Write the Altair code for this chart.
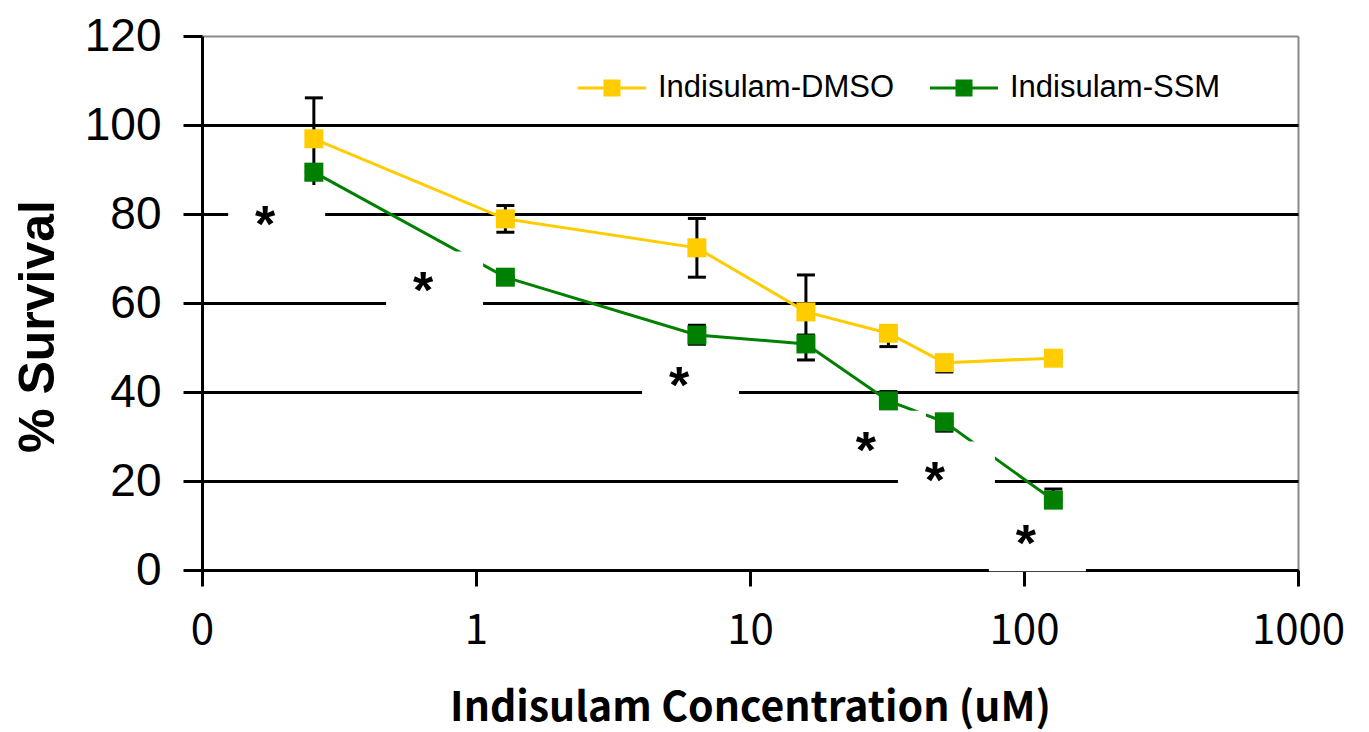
import altair as alt
import pandas as pd

# ---- data ----
conc = [0.256, 1.28, 6.4, 16, 32, 51.2, 128]
dmso = [96.9, 78.9, 72.4, 58.0, 53.2, 46.6, 47.6]
dmso_err_up = [9.2, 3.0, 6.6, 8.3, 0.0, 0.0, 0.0]
dmso_err_down = [9.2, 3.0, 6.6, 8.3, 3.0, 2.1, 0.0]
ssm = [89.4, 65.8, 52.8, 50.8, 38.0, 33.3, 15.7]
ssm_err_up = [0.0, 0.0, 2.2, 2.0, 2.1, 0.0, 2.5]
ssm_err_down = [3.3, 0.0, 2.2, 3.6, 0.0, 2.1, 0.0]

series_names = ["Indisulam-DMSO", "Indisulam-SSM"]
series_colors = ["#FFCC00", "#008000"]

star_x = [0.170, 0.641, 5.51, 26.5, 47.3, 101.6]
star_y = [79.3, 64.4, 43.2, 28.6, 21.7, 7.6]
star_text = ["*", "*", "*", "*", "*", "*"]

x_ticks = [0.1, 1, 10, 100, 1000]
x_tick_labels = ["0", "1", "10", "100", "1000"]
y_ticks = [0, 20, 40, 60, 80, 100, 120]

# ---- tables ----
rows = []
for name, vals, eu, ed in [(series_names[0], dmso, dmso_err_up, dmso_err_down),
                           (series_names[1], ssm, ssm_err_up, ssm_err_down)]:
    for c, v, u, d in zip(conc, vals, eu, ed):
        rows.append({"conc": c, "value": v, "lo": v - d, "hi": v + u, "series": name})
df = pd.DataFrame(rows)

stars = pd.DataFrame({"x": star_x, "y": star_y, "t": star_text})
# white text-box backgrounds behind each asterisk (Excel text boxes)
stars["bx1"] = stars["x"] * 10 ** (-0.135)
stars["bx2"] = stars["x"] * 10 ** (0.219)
stars["by1"] = stars["y"] - 7.9
stars["by2"] = stars["y"] + 7.2

label_map = ",".join(f"'{v}':'{l}'" for v, l in zip(x_ticks, x_tick_labels))
label_expr = "{" + label_map + "}[toString(datum.value)]"

xscale = alt.Scale(type="log", domain=[0.1, 1000], nice=False)
yscale = alt.Scale(domain=[0, 120], nice=False)

narrow = "Noto Sans CJK SC, Liberation Sans"

xaxis = alt.Axis(
    values=x_ticks, labelExpr=label_expr, title="Indisulam Concentration (uM)",
    labelFont=narrow, labelFontSize=42, labelColor="black", labelPadding=24,
    titleFont=narrow, titleFontSize=41, titleFontWeight="bold", titleColor="black", titlePadding=37,
    domainColor="black", domainWidth=3, tickColor="black", tickWidth=3, tickSize=16,
    grid=True,
    gridColor={"condition": {"test": "datum.value === 1000", "value": "#8a8a8a"}, "value": "transparent"},
    gridWidth=2, labelFlush=False,
)
yaxis = alt.Axis(
    values=y_ticks, title="% Survival",
    labelFont="Liberation Sans", labelFontSize=46, labelColor="black", labelPadding=22,
    titleFont="Liberation Sans", titleFontSize=50, titleFontWeight="bold", titleColor="black",
    titlePadding=21, titleY=290,
    domainColor="black", domainWidth=3, tickColor="black", tickWidth=3, tickSize=19,
    grid=True,
    gridColor={"condition": {"test": "datum.value === 120", "value": "#8a8a8a"}, "value": "black"},
    gridWidth={"condition": {"test": "datum.value === 120", "value": 2}, "value": 3},
)

base = alt.Chart(df)

err_rule = base.mark_rule(color="black", strokeWidth=3).encode(
    x=alt.X("conc:Q", scale=xscale, axis=xaxis),
    y=alt.Y("lo:Q", scale=yscale, axis=yaxis),
    y2="hi:Q",
)
cap_lo = base.mark_tick(color="black", orient="horizontal", size=18, thickness=3, opacity=1).encode(
    x="conc:Q", y="lo:Q")
cap_hi = base.mark_tick(color="black", orient="horizontal", size=18, thickness=3, opacity=1).encode(
    x="conc:Q", y="hi:Q")

color_scale = alt.Scale(domain=series_names, range=series_colors)

line_layers = [
    base.transform_filter(alt.datum.series == name)
    .mark_line(strokeWidth=3, color=col)
    .encode(x="conc:Q", y="value:Q")
    for name, col in zip(series_names, series_colors)
]

boxes = alt.Chart(stars).mark_rect(color="white", opacity=1).encode(
    x="bx1:Q", x2="bx2:Q", y="by1:Q", y2="by2:Q")

squares = base.mark_square(size=361, opacity=1, filled=True).encode(
    x="conc:Q", y="value:Q",
    color=alt.Color(
        "series:N", scale=color_scale,
        legend=alt.Legend(
            title=None, orient="none", legendX=376, legendY=18, direction="horizontal",
            symbolType="M-1,-0.045H1V0.045H-1Z M-0.25,-0.25H0.25V0.25H-0.25Z",
            symbolSize=4624, symbolStrokeWidth=0, symbolOpacity=1,
            labelFont="Liberation Sans", labelFontSize=31, labelColor="black",
            labelOffset=12, columnPadding=36, padding=0, labelLimit=500,
        ),
    ),
)

star_marks = alt.Chart(stars).mark_text(
    font="Liberation Sans", fontSize=52, fontWeight="bold", color="black",
    baseline="alphabetic", dy=25
).encode(x="x:Q", y="y:Q", text="t:N")

chart = alt.layer(err_rule, cap_lo, cap_hi, *line_layers, boxes, squares, star_marks).properties(
    width=1096, height=534,
    padding={"left": 5, "top": 5, "right": 5, "bottom": 5},
).configure_view(stroke=None).configure(background="white")

chart.save("out.html", embed_options={"renderer": "svg", "actions": False})
